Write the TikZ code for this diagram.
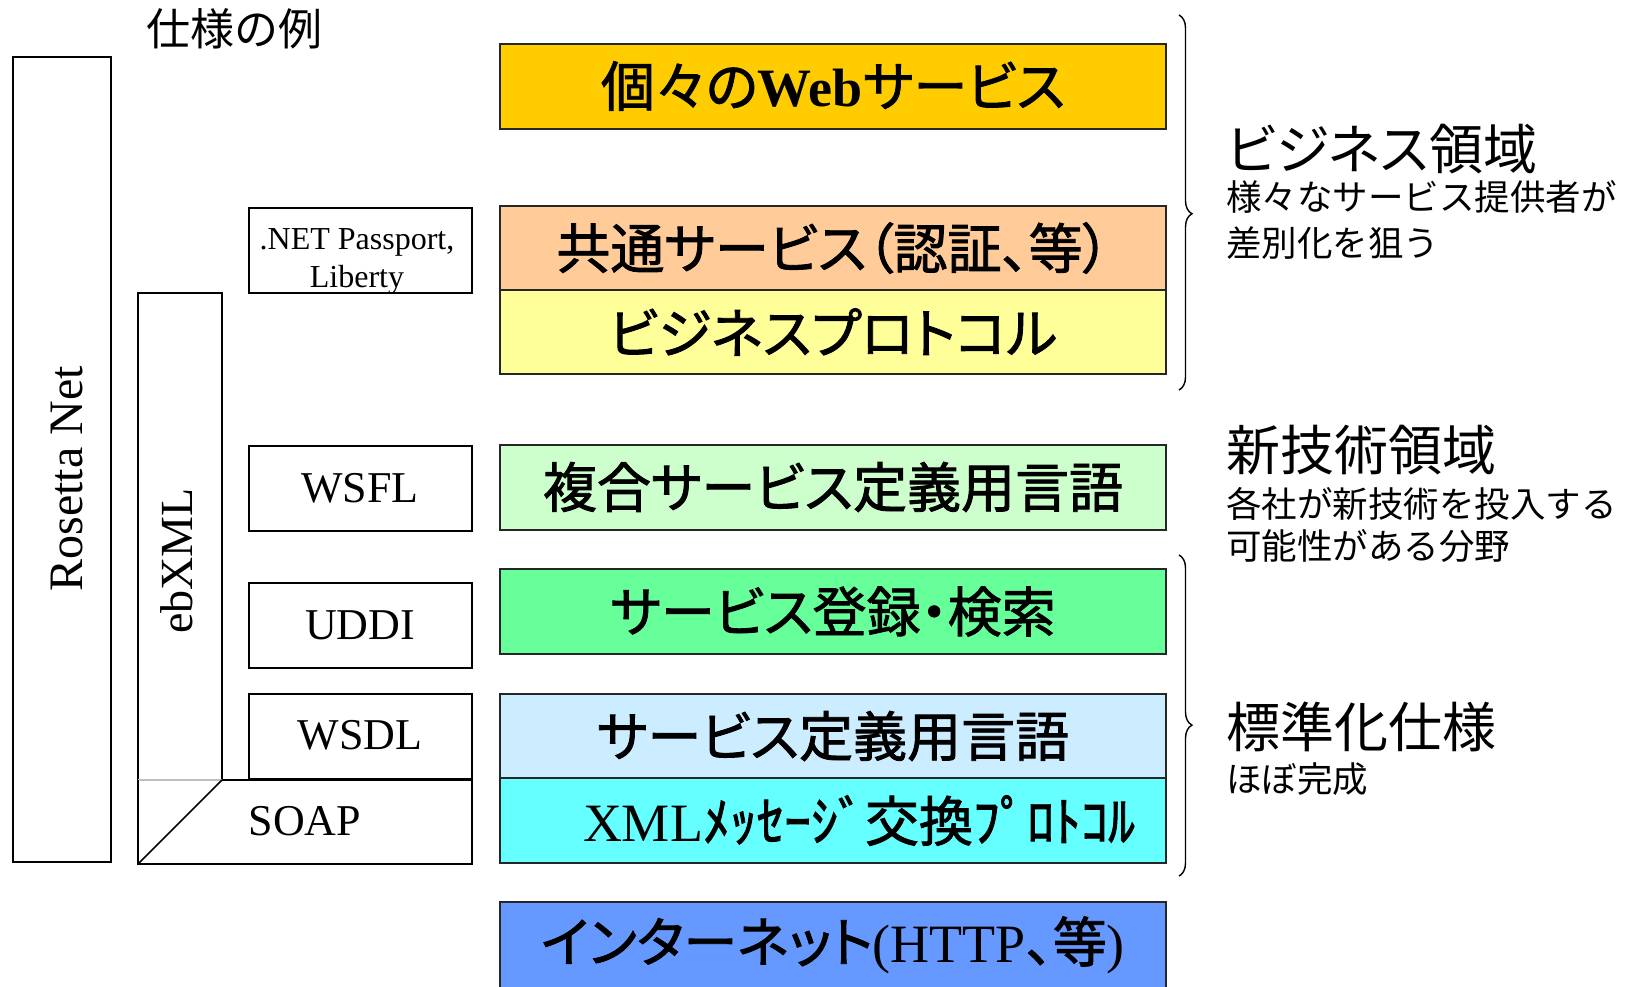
\documentclass[tikz,border=0pt]{standalone}
\usepackage{fontspec}
\setmainfont{Liberation Serif}
\newfontfamily\jp{Noto Sans CJK JP}
\newfontfamily\jpp{Noto Sans CJK JP}[RawFeature=+palt]
\newfontfamily\jpm{Noto Sans CJK JP}[RawFeature=+palt, FakeBold=1.6]
\usetikzlibrary{decorations.pathreplacing}
\definecolor{cWeb}{HTML}{FFCC00}
\definecolor{cCommon}{HTML}{FFCC99}
\definecolor{cBiz}{HTML}{FFFF99}
\definecolor{cComp}{HTML}{CCFFCC}
\definecolor{cReg}{HTML}{66FF99}
\definecolor{cDef}{HTML}{CCECFF}
\definecolor{cXml}{HTML}{66FFFF}
\definecolor{cNet}{HTML}{6699FF}
\begin{document}
\begin{tikzpicture}[x=0.5pt,y=-0.5pt,
  layer/.style={draw=black!85, line width=1pt, minimum width=333.25pt, inner sep=0pt,
    font=\jpm\fontsize{27}{30}\selectfont},
  spec/.style={draw=black, line width=0.75pt},
  spectext/.style={inner sep=0pt, font=\fontsize{22}{26}\selectfont},
  head/.style={anchor=west, inner sep=0pt, font=\jpp\fontsize{27}{32}\selectfont},
  note/.style={anchor=west, inner sep=0pt, font=\jp\fontsize{17.75}{22}\selectfont},
  bracepath/.style={line width=0.7pt, decorate, decoration={brace, amplitude=6.5pt, aspect=0.53}}]
\useasboundingbox (0,0) rectangle (1625,986);

% title
\node[inner sep=0pt, font=\jp\fontsize{22}{26}\selectfont] (title) at (234,29) {仕様の例};

% left specification boxes
\draw[spec] (13,57) rectangle (111,862);
\node[spectext, rotate=90, font=\fontsize{24}{28}\selectfont] (rosetta) at (67,479) {Rosetta Net};

\draw[spec] (138,780) -- (138,293) -- (222,293) -- (222,780);
\draw[black!25, line width=0.75pt] (138,780) -- (222,780);
\node[spectext, rotate=90, font=\fontsize{23}{27}\selectfont] (ebxml) at (177,561) {ebXML};

\draw[spec] (222,780) -- (472,780) -- (472,864) -- (138,864) -- (138,780);
\draw[spec] (222,780) -- (138,864);
\node[spectext] (soap) at (305,821) {SOAP};

\draw[spec] (249,208) rectangle (472,293);
\node[inner sep=0pt, align=center, font=\fontsize{16}{19}\selectfont] (net) at (357,261) {.NET Passport,\\Liberty};
\draw[spec] (249,446) rectangle (472,531);
\node[spectext] (wsfl) at (360,488) {WSFL};
\draw[spec] (249,583) rectangle (472,668);
\node[spectext] (uddi) at (360,625) {UDDI};
\draw[spec] (249,694) rectangle (472,779);
\node[spectext] (wsdl) at (360,735) {WSDL};

% right layer stack
\node[layer, fill=cWeb, minimum height=42.5pt] (web) at (833,86) {個々の{\rmfamily\bfseries Web}サービス};
\node[layer, fill=cCommon, minimum height=42pt] (common) at (833,248) {共通サービス（認証、等）};
\node[layer, fill=cBiz, minimum height=42pt] (biz) at (833,332) {ビジネスプロトコル};
\node[layer, fill=cComp, minimum height=42.5pt] (comp) at (833,487) {複合サービス定義用言語};
\node[layer, fill=cReg, minimum height=42.5pt] (reg) at (833,611.5) {サービス登録・検索};
\node[layer, fill=cDef, minimum height=42pt] (def) at (833,736) {サービス定義用言語};
\node[layer, fill=cXml, minimum height=42.5pt] (xml) at (833,820.5) {\hspace*{26pt}{\rmfamily\mdseries XML}ﾒｯｾｰｼﾞ交換ﾌﾟﾛﾄｺﾙ};
\node[layer, fill=cNet, minimum height=43pt] (inet) at (833,945) {インターネット{\rmfamily\mdseries (HTTP}、等{\rmfamily\mdseries )}};

% braces
\coordinate (b1t) at (1179,15);
\coordinate (b1b) at (1179,390);
\coordinate (b2t) at (1179,555);
\coordinate (b2b) at (1179,876);
\draw[bracepath] (b1t) -- (b1b);
\draw[bracepath] (b2t) -- (b2b);

% right labels
\node[head] (bizh) at (1226,149) {ビジネス領域};
\node[note] (biz1) at (1226,197) {様々なサービス提供者が};
\node[note] (biz2) at (1226,243) {差別化を狙う};
\node[head] (newh) at (1226,450) {新技術領域};
\node[note] (new1) at (1226,504) {各社が新技術を投入する};
\node[note] (new2) at (1226,546) {可能性がある分野};
\node[head] (stdh) at (1226,727) {標準化仕様};
\node[note] (std1) at (1226,779) {ほぼ完成};
\end{tikzpicture}
\end{document}
